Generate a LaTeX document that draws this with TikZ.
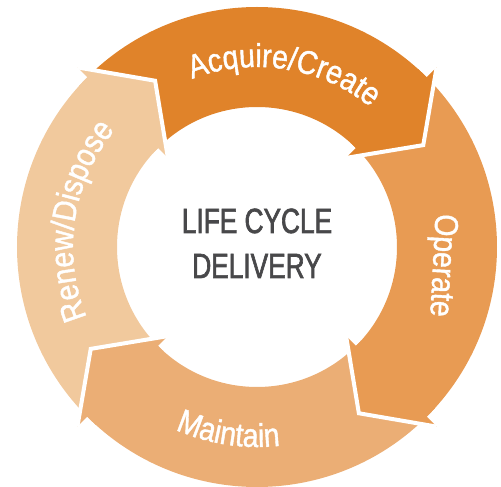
\documentclass[tikz,border=0pt]{standalone}
\usepackage{fontspec}
\usetikzlibrary{decorations.text}
\newfontfamily\ringfont[FakeStretch=0.86,FakeBold=1.2]{Liberation Sans}
\newfontfamily\centerfont[FakeStretch=0.75,FakeBold=1.8]{Liberation Sans}
\definecolor{acq}{HTML}{E0832A}
\definecolor{ope}{HTML}{E89B53}
\definecolor{mai}{HTML}{EBAE75}
\definecolor{ren}{HTML}{F1C99D}
\definecolor{centergray}{HTML}{48484A}
\tikzset{
  ringlabel/.style={text=white, font=\ringfont\fontsize{33}{36}\selectfont, inner sep=0pt},
  centerlabel/.style={text=centergray, font=\centerfont\fontsize{35}{45}\selectfont, inner sep=0pt, anchor=base},
  headgap/.style={draw=white, line width=4pt, line join=miter},
}
\begin{document}
\begin{tikzpicture}[x=1pt,y=1pt]
\useasboundingbox (-257,-240) rectangle (244,247);
\coordinate (c) at (0,0);
% ring bodies
\foreach \s/\w/\col in {135/45/acq, 45/-45/ope, -45/-135/mai, 225/135/ren}{
  \fill[\col] (\s:240) arc[start angle=\s, end angle=\w, radius=240]
     -- (\w:140) arc[start angle=\w, end angle=\s, radius=140] -- cycle;
}
% arrow heads
\foreach \w/\col in {45/acq, -45/ope, -135/mai, 135/ren}{
  \fill[\col] ({\w+3}:140) arc[start angle={\w+3}, end angle=\w, radius=140]
     -- (\w:126) -- ({\w-13.5}:195) -- (\w:254) -- (\w:240)
     arc[start angle=\w, end angle={\w+3}, radius=240] -- cycle;
  \draw[headgap] (\w:254) -- ({\w-13.5}:195) -- (\w:126);
}
% ring labels
\path[decorate, decoration={text along path, text align=center,
   text={|\ringfont\fontsize{33}{36}\selectfont\color{white}|Acquire/Create}}]
   (121:180) arc[start angle=121, end angle=41, radius=180];
\node[ringlabel, rotate=-93, anchor=base] (op) at (176,-18) {Operate};
\path[decorate, decoration={text along path, text align=center,
   text={|\ringfont\fontsize{33}{36}\selectfont\color{white}|Maintain}}]
   (-138.7:200) arc[start angle=-138.7, end angle=-58.7, radius=200];
\path[decorate, decoration={text along path, text align=center,
   text={|\ringfont\fontsize{33}{36}\selectfont\color{white}|Renew/Dispose}}]
   (213.5:184) arc[start angle=213.5, end angle=129.5, radius=184];
% centre text
\node[centerlabel] (l1) at (0,14) {LIFE CYCLE};
\node[centerlabel] (l2) at (0,-31) {DELIVERY};
\end{tikzpicture}
\end{document}
